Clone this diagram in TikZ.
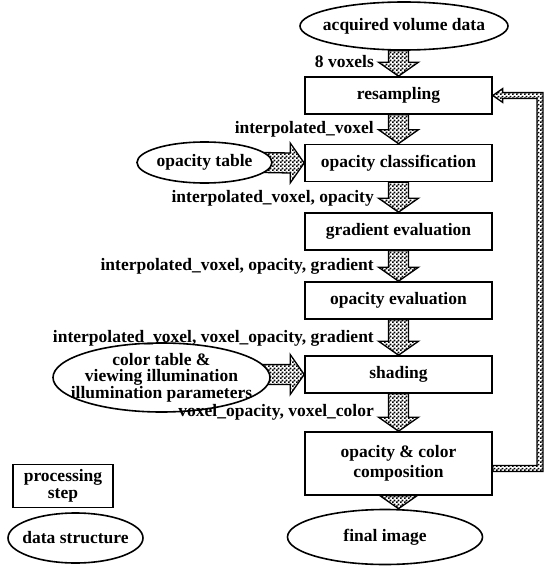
\documentclass[tikz,border=0pt]{standalone}
\usepackage{fontspec}
\setmainfont{Liberation Serif}
\usetikzlibrary{shapes.geometric,patterns,calc,backgrounds,positioning}

% fine checker fill of the fat arrows
\pgfdeclarepatternformonly{finechecks}{\pgfpointorigin}{\pgfpoint{4pt}{4pt}}{\pgfpoint{4pt}{4pt}}{%
  \pgfpathrectangle{\pgfpointorigin}{\pgfpoint{2pt}{2pt}}%
  \pgfpathrectangle{\pgfpoint{2pt}{2pt}}{\pgfpoint{2pt}{2pt}}%
  \pgfusepath{fill}}

% fat dotted arrows, drawn from tail point #1 to tip point #2
\newcommand{\fatdown}[2]{%
  \draw[fatarrow] ($(#1)+(-10,0)$) -- ($(#2)+(-10,-14)$) -- ($(#2)+(-20,-14)$) -- (#2)
    -- ($(#2)+(20,-14)$) -- ($(#2)+(10,-14)$) -- ($(#1)+(10,0)$) -- cycle;}
\newcommand{\fatright}[2]{%
  \draw[fatarrow] ($(#1)+(0,-10)$) -- ($(#2)+(-14,-10)$) -- ($(#2)+(-14,-20)$) -- (#2)
    -- ($(#2)+(-14,20)$) -- ($(#2)+(-14,10)$) -- ($(#1)+(0,10)$) -- cycle;}

\begin{document}
\begin{tikzpicture}[x=1pt,y=-1pt,font=\fontsize{17.5}{16.5}\selectfont\bfseries]
		% Define styles for processing steps, data structures and arrows
		\tikzset{procbox/.style={draw, line width=1.6pt, fill=white, minimum width=187pt, minimum height=37pt, inner sep=0pt, align=center},
			dataell/.style={draw, ellipse, line width=1.6pt, fill=white, inner xsep=-16pt, inner ysep=-4pt, align=center},
			fatarrow/.style={draw, line width=1.3pt, pattern=finechecks, pattern color=black, line join=miter},
			flowlabel/.style={anchor=east, inner sep=0pt}}
		
		\useasboundingbox (0,0) rectangle (545,567);
		
		% Processing steps
		\node[procbox] (resamp) at (398.5,95.5) {resampling};
		\node[procbox] (opclass) at (398.5,163) {opacity classification};
		\node[procbox] (gradev) at (398.5,231.5) {gradient evaluation};
		\node[procbox] (opeval) at (398.5,300.5) {opacity evaluation};
		\node[procbox] (shade) at (398.5,374.5) {shading};
		\node[procbox, minimum height=63pt] (comp) at (398.5,463.5) {opacity \& color\\[4pt]composition};
		
		% Data structures
		\node[dataell, minimum width=208pt, minimum height=48pt] (acq) at (404,26) {acquired volume data};
		\node[dataell, minimum width=195pt, minimum height=55pt] (final) at (385,537) {final image};
		\node[dataell, minimum width=135pt, minimum height=41pt] (optab) at (204.5,162.5) {opacity table};
		\node[dataell, minimum width=217pt, minimum height=69pt] (coltab) at (161.5,377.5) {color table \&\\viewing illumination\\illumination parameters};
		
		% Legend
		\node[procbox, minimum width=100pt, minimum height=43pt] (legstep) at (63,486) {processing\\step};
		\node[dataell, minimum width=135pt, minimum height=50pt] (legdata) at (75.5,538) {data structure};
		
		% Arrow end points
		\coordinate (acqout) at (resamp.north |- acq.south);
		\coordinate (finin) at (comp.south |- final.north);
		\coordinate (optail) at ($(optab.east)+(-10,0)$);
		\coordinate (coltail) at ($(coltab.east |- shade.west)+(-14,0)$);
		\coordinate (fb) at (540,0);
		
		% Arrows behind the nodes
		\begin{scope}[on background layer]
			\fatdown{acqout}{resamp.north}
			\fatdown{resamp.south}{opclass.north}
			\fatdown{opclass.south}{gradev.north}
			\fatdown{gradev.south}{opeval.north}
			\fatdown{opeval.south}{shade.north}
			\fatdown{shade.south}{comp.north}
			\fatdown{comp.south}{finin}
			\fatright{optail}{opclass.west}
			\fatright{coltail}{shade.west}
			% Feedback from composition back to resampling
			\draw[fatarrow] let \p1=($(comp.east)+(0,5)$), \p2=(resamp.east), \p3=(fb) in
				(\x1,\y1+3pt) -- (\x3-3pt,\y1+3pt) -- (\x3-3pt,\y2-3pt) -- (\x2+10pt,\y2-3pt)
				-- (\x2+10pt,\y2-7pt) -- (\x2,\y2) -- (\x2+10pt,\y2+7pt) -- (\x2+10pt,\y2+3pt)
				-- (\x3+3pt,\y2+3pt) -- (\x3+3pt,\y1-3pt) -- (\x1,\y1-3pt) -- cycle;
		\end{scope}
		
		% Labels of the data passed along
		\node[flowlabel] (lvox) at (374,62) {8 voxels};
		\node[flowlabel] (linterp) at (374,129) {interpolated\_voxel};
		\node[flowlabel] (lop) at (374,198) {interpolated\_voxel, opacity};
		\node[flowlabel] (lgrad) at (374,266.5) {interpolated\_voxel, opacity, gradient};
		\node[flowlabel] (lvop) at (374,338) {interpolated\_voxel, voxel\_opacity, gradient};
		\node[flowlabel] (lcol) at (374,412) {voxel\_opacity, voxel\_color};
	\end{tikzpicture}
\end{document}
